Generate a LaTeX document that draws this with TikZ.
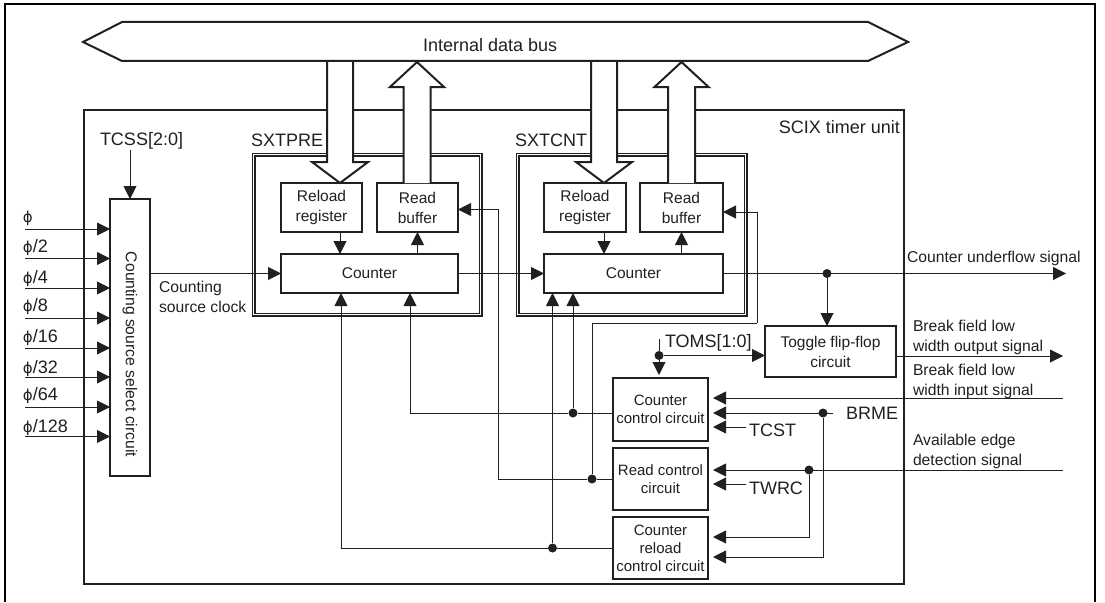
\documentclass[tikz,border=0pt]{standalone}
\usepackage{fontspec}
\setmainfont{Liberation Sans}
\newfontfamily\phifont{DejaVu Sans}
\usetikzlibrary{arrows.meta,calc}
\definecolor{ink}{HTML}{231F20}
\newcommand{\ph}{{\phifont\fontsize{15}{18}\selectfont ϕ}}
\tikzset{
  blk/.style={draw=ink, line width=2.1pt, inner sep=0pt, outer sep=0pt, align=center, fill=white,
              text=ink, font=\fontsize{15.5}{20}\selectfont},
  lift/.style={execute at begin node={\rule{0pt}{17pt}}},
  ctlblk/.style={blk, minimum width=95pt, font=\fontsize{15}{18}\selectfont},
  frm/.style={draw=ink, line width=1.1pt, double, double distance=1.8pt, inner sep=0pt, outer sep=0pt},
  lbl/.style={inner sep=0pt, outer sep=0pt, text=ink, align=left, font=\fontsize{15.7}{20}\selectfont},
  biglbl/.style={inner sep=0pt, outer sep=0pt, text=ink, anchor=base west, font=\fontsize{18}{20}\selectfont},
  dot/.style={circle, fill=ink, inner sep=0pt, minimum size=9pt},
  hollow/.style={draw=ink, line width=2pt, fill=white, line join=miter},
  gap/.style={shorten >=5pt},
}
\begin{document}
\begin{tikzpicture}[x=1pt, y=-1pt, >={Triangle[length=13pt,width=13pt]}, line width=0.95pt, draw=ink]
  \useasboundingbox (0,0) rectangle (1105,602);
  \draw[black, line width=2.4pt] (5,602) -- (5,4) -- (1095,4) -- (1095,602);

  % timer unit and the two register groups
  \node[draw=ink, line width=2pt, inner sep=0pt, outer sep=0pt, minimum width=820pt, minimum height=474pt] (unit) at (494,347) {};
  \node[frm, minimum width=227pt, minimum height=160pt] (pre) at (367,234.5) {};
  \node[frm, minimum width=228pt, minimum height=160pt] (cnt) at (631.5,234.5) {};
  \node[biglbl, anchor=base east] (unitlbl) at (900,133) {SCIX timer unit};
  \node[biglbl] (prelbl) at (251,146) {SXTPRE};
  \node[biglbl] (cntlbl) at (515,146) {SXTCNT};

  \node[blk, lift, minimum width=81pt, minimum height=49pt] (rr1) at (321.5,207.5) {Reload\\register};
  \node[blk, lift, minimum width=81pt, minimum height=49pt] (rb1) at (417.5,207.5) {Read\\buffer};
  \node[blk, minimum width=177pt, minimum height=39pt] (cnt1) at (369.5,273.5) {Counter};
  \node[blk, lift, minimum width=82pt, minimum height=49pt] (rr2) at (585,207.5) {Reload\\register};
  \node[blk, lift, minimum width=83pt, minimum height=49pt] (rb2) at (681.5,207.5) {Read\\buffer};
  \node[blk, minimum width=179pt, minimum height=39pt] (cnt2) at (633.5,273.5) {Counter};

  \node[blk, minimum width=40pt, minimum height=277pt] (sel) at (130,337.5) {};
  \node[lbl, rotate=-90] (sellbl) at (130,354.5) {Counting source select circuit};

  \node[blk, lift, minimum width=131pt, minimum height=51pt] (tog) at (830.5,351.5) {Toggle flip-flop\\circuit};
  \node[ctlblk, minimum height=63pt] (cc) at (660.5,409.5) {Counter\\control circuit};
  \node[ctlblk, minimum height=62pt] (rc) at (660.5,479) {Read control\\circuit};
  \node[ctlblk, minimum height=62pt] (crl) at (660.5,548) {Counter\\reload\\control circuit};

  % wide bus arrows
  \coordinate (dn1) at (340,61);
  \coordinate (up1) at (417,183);
  \coordinate (dn2) at (604,61);
  \coordinate (up2) at (681.5,183);
  \foreach \a in {dn1,dn2} {
    \draw[hollow] (\a) ++(-13,0) -- ++(0,101) -- ++(-15,0) -- ++(28,21) -- ++(28,-21) -- ++(-15,0) -- ++(0,-101);
  }
  \foreach \a in {up1,up2} {
    \draw[hollow] (\a) ++(-13.5,0) -- ++(0,-96) -- ++(-13.5,0) -- ++(27,-25) -- ++(27,25) -- ++(-13.5,0) -- ++(0,96);
  }
  \draw[hollow] (83,42) -- (122,22) -- (868,22) -- (908,42) -- (868,61) -- (122,61) -- cycle;
  \node[biglbl] (buslbl) at (423,52) {Internal data bus};

  % clock inputs
  \node[biglbl] (tcss) at (100,145) {TCSS[2:0]};
  \draw[->] (130,150) -- (sel.north);
  \foreach \y/\by/\lab [count=\n] in {229/222/{}, 258.5/252/2, 288/283/4, 318/311/8,
                                      348/342/16, 377/373/32, 407/400/64, 436.5/432/128} {
    \coordinate (ci\n) at (25,\y);
    \node[biglbl] (ph\n) at (23,\by) {\ph\ifx\lab\empty\else/\lab\fi};
    \draw[->] (ci\n) -- (ci\n -| sel.west);
  }

  % counters
  \draw[->] (sel.east |- cnt1.west) -- (cnt1.west);
  \node[lbl, anchor=west] (srcclk) at (159,297) {Counting\\source clock};
  \draw[->] (cnt1.east) -- (cnt2.west);
  \draw[->] (dn1 |- rr1.south) -- (dn1 |- cnt1.north);
  \draw[->] (rb1.south |- cnt1.north) -- (rb1.south);
  \draw[->] (dn2 |- rr2.south) -- (dn2 |- cnt2.north);
  \draw[->] (rb2.south |- cnt2.north) -- (rb2.south);

  % outputs
  \coordinate (under) at (1066,273.5);
  \node[dot] (d1) at (827,273.5) {};
  \draw[->] (cnt2.east) -- (under);
  \draw[->] (d1) -- (d1 |- tog.north);
  \node[lbl, anchor=base west] (underlbl) at (907,262) {Counter underflow signal};
  \coordinate (brkout) at (1063,356);
  \draw[->] (tog.east |- brkout) -- (brkout);
  \node[lbl, anchor=west] (brkoutlbl) at (913,337) {Break field low\\width output signal};

  % control inputs
  \node[biglbl] (toms) at (665,347) {TOMS[1:0]};
  \coordinate (tomstop) at (659,339);
  \node[dot] (d2) at (659,355.5) {};
  \draw (tomstop) -- (d2);
  \draw[->] (d2) -- (d2 -| tog.west);
  \draw[->] (d2) -- (659,375);

  \coordinate (brkin) at (1063,398);
  \draw[->, gap] (brkin) -- (brkin -| cc.east);
  \node[lbl, anchor=west] (brkinlbl) at (913,381) {Break field low\\width input signal};

  \node[biglbl] (brme) at (846,419) {BRME};
  \coordinate (brmeend) at (833,413);
  \node[dot] (d3) at (823,413) {};
  \draw[->, gap] (brmeend) -- (brmeend -| cc.east);
  \draw[->, gap] (d3) |- ([yshift=-9pt]crl.east);

  \node[biglbl] (tcst) at (749,436) {TCST};
  \coordinate (tcstend) at (746,427);
  \draw[->, gap] (tcstend) -- (tcstend -| cc.east);

  \coordinate (edge) at (1063,470);
  \node[dot] (d4) at (809,470) {};
  \draw[->, gap] (edge) -- (edge -| rc.east);
  \draw[->, gap] (d4) |- ([yshift=11pt]crl.east);
  \node[lbl, anchor=west] (edgelbl) at (913,451) {Available edge\\detection signal};

  \node[biglbl] (twrc) at (749,494) {TWRC};
  \coordinate (twrcend) at (746,484);
  \draw[->, gap] (twrcend) -- (twrcend -| rc.east);

  % control outputs
  \node[dot] (d5) at (573,413) {};
  \draw ([yshift=-3.5pt]cc.west) -- (d5);
  \draw[->] (d5) -| ([xshift=40.5pt]cnt1.south);
  \draw[->] (d5) -- (d5 |- cnt2.south);

  \node[dot] (d6) at (592,479) {};
  \coordinate (rdturn) at (498,479);
  \coordinate (rdup) at (757,323);
  \draw (rc.west) -- (d6) -- (rdturn);
  \draw[->] (rdturn) |- ([yshift=-2pt]rb1.east);
  \draw (d6) |- (rdup);
  \draw[->] (rdup) |- ([yshift=-4.5pt]rb2.east);

  \node[dot] (d7) at (552.5,548) {};
  \draw (crl.west) -- (d7);
  \draw[->] (d7) -| ([xshift=-28.5pt]cnt1.south);
  \draw[->] (d7) -- (d7 |- cnt2.south);
\end{tikzpicture}
\end{document}
